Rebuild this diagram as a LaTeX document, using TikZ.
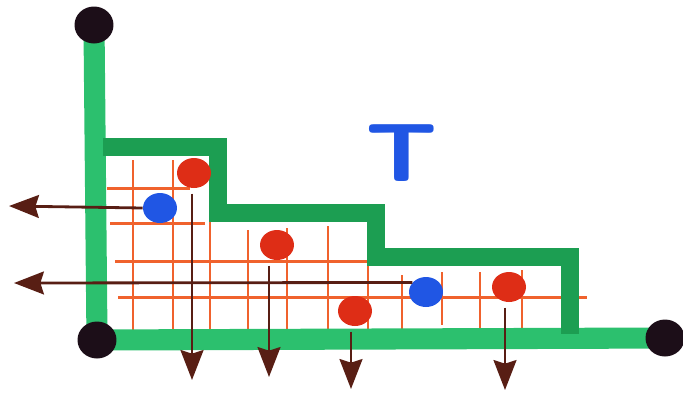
\documentclass[tikz,border=0pt]{standalone}
\usepackage{graphicx}
\usepackage{xcolor}
\usetikzlibrary{shapes.geometric, arrows.meta, backgrounds}
\definecolor{axgreen}{RGB}{44,192,110}
\definecolor{stgreen}{RGB}{28,158,82}
\definecolor{gridor}{RGB}{240,98,45}
\definecolor{ptred}{RGB}{222,45,22}
\definecolor{ptblue}{RGB}{32,86,228}
\definecolor{arbrown}{RGB}{88,30,20}
\definecolor{ptblack}{RGB}{28,14,24}
\tikzset{
  axis/.style={draw=axgreen, line width=12pt},
  stair/.style={draw=stgreen, line width=10.5pt, line join=miter},
  gridline/.style={draw=gridor, line width=1.7pt},
  dot/.style={ellipse, inner sep=0pt, minimum width=0.68cm,
              minimum height=0.6cm},
  redpt/.style={dot, fill=ptred},
  bluept/.style={dot, fill=ptblue},
  endpt/.style={dot, fill=ptblack, minimum width=0.78cm,
                minimum height=0.74cm},
  proj/.style={-{Stealth[length=17pt, width=13pt, inset=2pt]},
               draw=arbrown, line width=1.6pt}
}

\begin{document}
\begin{tikzpicture}[x=0.02cm, y=-0.02cm]
  \useasboundingbox (0,0) rectangle (683,393);

  % end points of the axes
  \node[endpt] (e0) at (94,25) {};
  \node[endpt] (e1) at (97,340) {};
  \node[endpt] (e2) at (665,338) {};

  \begin{scope}[on background layer]
    % grid
    \draw[gridline] (133,160) -- (133,348);
    \draw[gridline] (173,160) -- (173,340);
    \draw[gridline] (210,200) -- (210,332);
    \draw[gridline] (248,230) -- (248,340);
    \draw[gridline] (287,228) -- (287,333);
    \draw[gridline] (328,226) -- (328,333);
    \draw[gridline] (368,265) -- (368,338);
    \draw[gridline] (402,275) -- (402,330);
    \draw[gridline] (442,272) -- (442,325);
    \draw[gridline] (480,272) -- (480,338);
    \draw[gridline] (522,270) -- (522,337);
    \draw[gridline] (107,188) -- (190,188);
    \draw[gridline] (110,223) -- (205,223);
    \draw[gridline] (115,261) -- (372,261);
    \draw[gridline] (118,297) -- (587,297);

    % axes
    \draw[axis] (e0.center) -- (e1.center) -- (e2.center);

    % staircase
    \draw[stair] (103,147) -- (218,147) -- (218,213) -- (376,213)
      -- (376,257) -- (570,257) -- (570,334);
  \end{scope}

  % points
  \node[redpt] (r1) at (194,173) {};
  \node[redpt] (r2) at (277,245) {};
  \node[redpt] (r3) at (355,311) {};
  \node[redpt] (r4) at (509,287) {};
  \node[bluept] (b1) at (160,208) {};
  \node[bluept] (b2) at (426,292) {};

  % label
  \node[text=ptblue, font=\fontsize{47}{47}\selectfont\sffamily\bfseries]
    (lbl) at (402,153) {\scalebox{1.2}[1]{T}};

  % projections
  \coordinate (l1) at (9,206);
  \coordinate (l2) at (14,283);
  \coordinate (d1) at (192,380);
  \coordinate (d2) at (269,377);
  \coordinate (d3) at (351,389);
  \coordinate (d4) at (505,390);
  \draw[proj] (b1.west) -- (l1);
  \draw[proj] (b2.145) -- (l2);
  \draw[proj, shorten <=3pt] (r1.south -| d1) -- (d1);
  \draw[proj, shorten <=3pt] (r2.south -| d2) -- (d2);
  \draw[proj, shorten <=3pt] (r3.south -| d3) -- (d3);
  \draw[proj, shorten <=3pt] (r4.south -| d4) -- (d4);
\end{tikzpicture}
\end{document}
